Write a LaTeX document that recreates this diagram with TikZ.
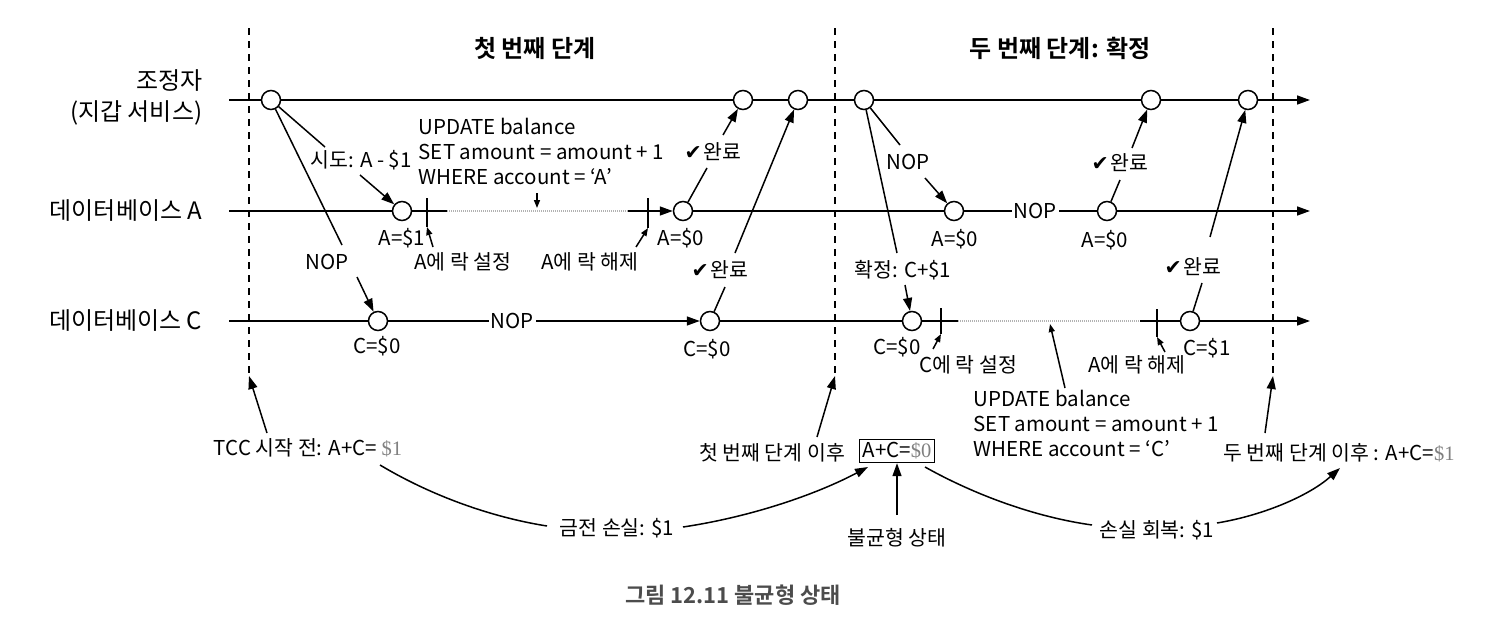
\documentclass[tikz,border=0pt]{standalone}
\usepackage{fontspec}
\setmainfont{Noto Sans CJK KR}[BoldFont={Noto Sans CJK KR Bold}]
\newfontfamily\symfont{DejaVu Sans}
\newfontfamily\dolfont{Liberation Serif}
\usetikzlibrary{arrows.meta}
\newcommand{\chkmark}{{\symfont ✔}\hspace{2pt}}
\newcommand{\graydol}[1]{{\color{gray}\dolfont #1}}
\begin{document}
\begin{tikzpicture}[x=1pt,y=-1pt,line width=1.5pt,
  circ/.style={circle,draw,fill=white,minimum size=19pt,inner sep=0pt},
  lbl/.style={font=\fontsize{20.5}{25}\selectfont,inner sep=1pt},
  big/.style={font=\fontsize{24}{30}\selectfont,inner sep=0pt},
  ttl/.style={font=\bfseries\fontsize{24}{30}\selectfont,inner sep=0pt},
  arr/.style={-{Triangle[length=13pt,width=9pt]}},
  sarr/.style={-{Triangle[length=8pt,width=6pt]}},
  phase/.style={dash pattern=on 7pt off 6pt},
  lockline/.style={gray!60,line width=1.2pt,dash pattern=on 1pt off 1pt},
  nop/.style={lbl,fill=white,inner sep=2pt},
  sumbox/.style={lbl,draw,inner sep=3pt}]
\useasboundingbox (0,0) rectangle (1486,624);

% titles
\node[ttl] (title1) at (535,48) {첫 번째 단계};
\node[ttl] (title2) at (1060,48) {두 번째 단계: 확정};

% left labels
\node[big,anchor=east] (coordlbl) at (203,81) {조정자};
\node[big,anchor=east] (walletlbl) at (203,113) {(지갑 서비스)};
\node[big,anchor=east] (dbAlbl) at (203,211) {데이터베이스 A};
\node[big,anchor=east] (dbClbl) at (203,321) {데이터베이스 C};

% phase separators
\coordinate (d1t) at (249,28);  \coordinate (d1b) at (249,376);
\coordinate (d2t) at (835,28);  \coordinate (d2b) at (835,376);
\coordinate (d3t) at (1273,28); \coordinate (d3b) at (1273,376);
\draw[phase] (d1t) -- (d1b);
\draw[phase] (d2t) -- (d2b);
\draw[phase] (d3t) -- (d3b);

% circles
\node[circ] (c1) at (271,100) {};
\node[circ] (c2) at (743,100) {};
\node[circ] (c3) at (798,100) {};
\node[circ] (c4) at (864,100) {};
\node[circ] (c5) at (1151,100) {};
\node[circ] (c6) at (1248,100) {};
\node[circ] (a1) at (402,211) {};
\node[circ] (a2) at (683,211) {};
\node[circ] (a3) at (954,211) {};
\node[circ] (a4) at (1107,211) {};
\node[circ] (k1) at (378,321) {};
\node[circ] (k2) at (710,321) {};
\node[circ] (k3) at (912,321) {};
\node[circ] (k4) at (1190,321) {};

% time lines
\coordinate (Cs) at (229,100); \coordinate (Ce) at (1310,100);
\coordinate (As) at (229,211); \coordinate (Ae) at (1310,211);
\coordinate (Ks) at (229,321); \coordinate (Ke) at (1310,321);
\coordinate (Ad1) at (447,211); \coordinate (Ad2) at (628,211);
\coordinate (Kd1) at (958,321); \coordinate (Kd2) at (1140,321);
\draw[arr] (Cs) -- (c1) -- (c2) -- (c3) -- (c4) -- (c5) -- (c6) -- (Ce);
\draw (As) -- (a1) -- (Ad1);
\draw[lockline] (Ad1) -- (Ad2);
\draw[arr] (Ad2) -- (a2);
\draw (a2) -- (a3) -- (a4);
\node[nop] (nopA) at (1035,211) {NOP};
\draw[arr] (a4) -- (Ae);
\draw (Ks) -- (k1);
\draw[arr] (k1) -- (k2);
\node[nop] (nopC) at (512,321) {NOP};
\draw (k2) -- (k3) -- (Kd1);
\draw[lockline] (Kd1) -- (Kd2);
\draw (Kd2) -- (k4);
\draw[arr] (k4) -- (Ke);

% lock ticks
\coordinate (t1t) at (427,198);  \coordinate (t1b) at (427,227);
\coordinate (t2t) at (648,198);  \coordinate (t2b) at (648,228);
\coordinate (t3t) at (941,308);  \coordinate (t3b) at (941,334);
\coordinate (t4t) at (1157,309); \coordinate (t4b) at (1157,337);
\draw (t1t) -- (t1b);
\draw (t2t) -- (t2b);
\draw (t3t) -- (t3b);
\draw (t4t) -- (t4b);

% values under circles
\node[lbl] (va1) at (402,238) {A=\$1};
\node[lbl] (va2) at (681,238) {A=\$0};
\node[lbl] (va3) at (955,239) {A=\$0};
\node[lbl] (va4) at (1105,240) {A=\$0};
\node[lbl] (vk1) at (377,346) {C=\$0};
\node[lbl] (vk2) at (707,349) {C=\$0};
\node[lbl] (vk3) at (897,347) {C=\$0};
\node[lbl] (vk4) at (1207,348) {C=\$1};

% lock labels
\node[lbl] (lockA) at (463,262) {A에 락 설정};
\node[lbl] (unlockA) at (590,262) {A에 락 해제};
\node[lbl] (lockC) at (968,365) {C에 락 설정};
\node[lbl] (unlockC) at (1137,365) {A에 락 해제};
\coordinate (lA) at (433,247);  \draw[sarr] (lA) -- (t1b);
\coordinate (uA) at (636,247);  \draw[sarr] (uA) -- (t2b);
\coordinate (lC) at (933,349);  \draw[sarr] (lC) -- (t3b);
\coordinate (uC) at (1165,352); \draw[sarr] (uC) -- (t4b);

% SQL texts
\node[lbl,anchor=west,align=left] (sqlA) at (417,151) {UPDATE balance\\SET amount = amount + 1\\WHERE account = ‘A’};
\coordinate (sqlAp) at (537,193); \coordinate (sqlAq) at (537,208);
\draw[sarr] (sqlAp) -- (sqlAq);
\node[lbl,anchor=west,align=left] (sqlC) at (972,423) {UPDATE balance\\SET amount = amount + 1\\WHERE account = ‘C’};
\coordinate (sqlCp) at (1065,388); \coordinate (sqlCq) at (1050,324);
\draw[sarr] (sqlCp) -- (sqlCq);

% messages
\node[lbl] (try) at (361,160) {시도: A - \$1};
\coordinate (tryin) at (325,147); \coordinate (tryout) at (360,175);
\draw (c1) -- (tryin);
\draw[arr] (tryout) -- (a1);

\node[lbl] (nop1) at (327,262) {NOP};
\coordinate (nop1in) at (342,245); \coordinate (nop1out) at (357,277);
\draw (c1) -- (nop1in);
\draw[arr] (nop1out) -- (k1);

\node[lbl] (done1) at (713,152) {\chkmark 완료};
\coordinate (done1in) at (707,168); \coordinate (done1out) at (723,135);
\draw (a2) -- (done1in);
\draw[arr] (done1out) -- (c2);

\node[lbl] (done2) at (720,270) {\chkmark 완료};
\coordinate (done2in) at (725,287); \coordinate (done2out) at (735,253);
\draw (k2) -- (done2in);
\draw[arr] (done2out) -- (c3);

\node[lbl] (nop2) at (908,162) {NOP};
\coordinate (nop2in) at (900,145); \coordinate (nop2out) at (925,178);
\draw (c4) -- (nop2in);
\draw[arr] (nop2out) -- (a3);

\node[lbl] (commit) at (903,270) {확정: C+\$1};
\coordinate (comin) at (897,253); \coordinate (comout) at (905,285);
\draw (c4) -- (comin);
\draw[arr] (comout) -- (k3);

\node[lbl] (done3) at (1120,163) {\chkmark 완료};
\coordinate (done3in) at (1120,180); \coordinate (done3out) at (1132,148);
\draw (a4) -- (done3in);
\draw[arr] (done3out) -- (c5);

\node[lbl] (done4) at (1193,267) {\chkmark 완료};
\coordinate (done4in) at (1202,283); \coordinate (done4out) at (1210,237);
\draw (k4) -- (done4in);
\draw[arr] (done4out) -- (c6);

% bottom annotations
\node[lbl] (tcc) at (308,448) {TCC 시작 전: A+C= \graydol{\$1}};
\coordinate (tccp) at (267,433);
\draw[arr] (tccp) -- (d1b);
\node[lbl] (after1) at (772,453) {첫 번째 단계 이후};
\coordinate (after1p) at (817,437);
\draw[arr] (after1p) -- (d2b);
\node[sumbox] (sum) at (897,451) {A+C=\graydol{\$0}};
\node[lbl] (after2) at (1339,453) {두 번째 단계 이후 : A+C=\graydol{\$1}};
\coordinate (after2p) at (1265,433);
\draw[arr] (after2p) -- (d3b);

\node[lbl] (loss) at (617,528) {금전 손실: \$1};
\node[lbl] (imbal) at (897,538) {불균형 상태};
\node[lbl] (recov) at (1157,530) {손실 회복: \$1};

\coordinate (lossA) at (380,465); \coordinate (lossB) at (547,526);
\coordinate (lossC) at (683,527); \coordinate (lossD) at (868,467);
\draw (lossA) .. controls (430,495) and (490,517) .. (lossB);
\draw[arr] (lossC) .. controls (750,517) and (815,495) .. (lossD);
\coordinate (imbp) at (897,515);
\draw[arr] (imbp) -- (sum.south);
\coordinate (recA) at (925,467); \coordinate (recB) at (1092,525);
\coordinate (recC) at (1217,523); \coordinate (recD) at (1340,468);
\draw (recA) .. controls (975,495) and (1035,517) .. (recB);
\draw[arr] (recC) .. controls (1265,515) and (1310,495) .. (recD);

% caption
\node[font=\bfseries\fontsize{22}{26}\selectfont,text=black!70] (caption) at (733,595) {그림 12.11 불균형 상태};
\end{tikzpicture}
\end{document}
